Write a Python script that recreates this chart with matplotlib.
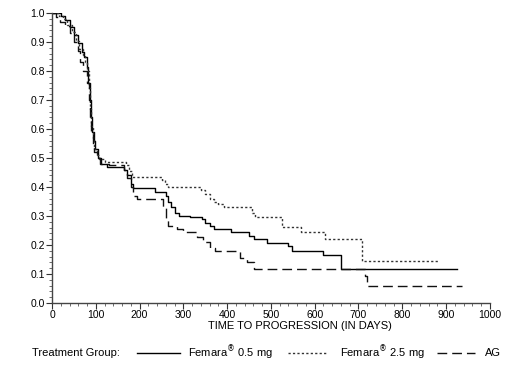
# Kaplan-Meier style curves: time to progression by treatment group

import matplotlib
matplotlib.use("Agg")
import matplotlib.pyplot as plt
from matplotlib.lines import Line2D
from matplotlib.ticker import MultipleLocator

plt.rcParams['font.family'] = ['Liberation Sans', 'DejaVu Sans']

# Femara 0.5 mg (solid)
t_05 = [0, 21, 30, 40, 50, 60, 68, 74, 80, 83, 86, 89, 92, 95, 99, 104, 112, 125,
        165, 172, 180, 186, 235, 261, 266, 272, 280, 290, 316, 343, 350, 360, 369,
        408, 449, 462, 492, 538, 549, 620, 661, 926]
s_05 = [1.0, 0.99, 0.975, 0.95, 0.925, 0.895, 0.865, 0.85, 0.815, 0.76, 0.70, 0.64,
        0.59, 0.56, 0.53, 0.50, 0.48, 0.47, 0.46, 0.44, 0.41, 0.396, 0.383, 0.37,
        0.35, 0.33, 0.31, 0.30, 0.296, 0.29, 0.275, 0.265, 0.256, 0.244, 0.232,
        0.221, 0.206, 0.196, 0.18, 0.164, 0.117, 0.117]

# Femara 2.5 mg (dotted)
t_25 = [0, 17, 25, 35, 45, 55, 62, 70, 76, 80, 84, 87, 90, 93, 97, 102, 108, 120,
        170, 176, 182, 251, 258, 265, 340, 350, 360, 370, 380, 392, 457, 464, 526,
        568, 624, 707, 885]
s_25 = [1.0, 0.99, 0.98, 0.96, 0.935, 0.905, 0.875, 0.855, 0.83, 0.80, 0.74, 0.67,
        0.61, 0.57, 0.53, 0.51, 0.495, 0.488, 0.475, 0.455, 0.434, 0.425, 0.41,
        0.40, 0.39, 0.375, 0.36, 0.35, 0.34, 0.33, 0.31, 0.296, 0.262, 0.244,
        0.221, 0.144, 0.144]

# AG (dashed)
t_ag = [0, 10, 18, 29, 40, 50, 60, 65, 70, 80, 84, 87, 90, 93, 97, 102, 110, 130,
        165, 172, 180, 186, 193, 254, 260, 265, 285, 300, 331, 345, 360, 372, 430,
        445, 461, 714, 720, 937]
s_ag = [1.0, 0.985, 0.97, 0.955, 0.93, 0.90, 0.87, 0.83, 0.80, 0.76, 0.70, 0.64,
        0.59, 0.55, 0.52, 0.50, 0.48, 0.475, 0.46, 0.43, 0.40, 0.37, 0.359, 0.33,
        0.29, 0.265, 0.255, 0.246, 0.227, 0.21, 0.19, 0.178, 0.157, 0.14, 0.117,
        0.094, 0.06, 0.06]

x_ticks = [0, 100, 200, 300, 400, 500, 600, 700, 800, 900, 1000]
y_ticks = [0.0, 0.1, 0.2, 0.3, 0.4, 0.5, 0.6, 0.7, 0.8, 0.9, 1.0]

fig = plt.figure(figsize=(5.2, 3.66), dpi=100)
ax = fig.add_axes([0.1, 0.172, 0.842, 0.7925])

ax.step(t_05, s_05, where='post', color='black', lw=1.0)
ax.step(t_25, s_25, where='post', color='#333333', lw=1.0, dashes=(1.6, 1.6))
ax.step(t_ag, s_ag, where='post', color='#111111', lw=1.0, dashes=(7, 3.6))

ax.set_xlim(0, 1000)
ax.set_ylim(0, 1.0)
ax.set_xticks(x_ticks)
ax.set_yticks(y_ticks)
ax.set_yticklabels([f"{v:.1f}" for v in y_ticks])
ax.xaxis.set_minor_locator(MultipleLocator(20))
ax.yaxis.set_minor_locator(MultipleLocator(0.02))
ax.tick_params(which='major', length=4, width=0.8, labelsize=7.5, pad=1, colors='#333333',
               labelcolor='black')
ax.tick_params(which='minor', length=2.5, width=0.6, colors='#555555')
for side in ['top', 'right']:
    ax.spines[side].set_visible(False)
for side in ['left', 'bottom']:
    ax.spines[side].set_color('#444444')
    ax.spines[side].set_linewidth(1.0)

fig.text(300 / 520, 1 - 326 / 366, "TIME TO PROGRESSION (IN DAYS)", ha='center', va='center',
         fontsize=8)

# legend row
ly = 1 - 353 / 366
fig.text(32 / 520, ly, "Treatment Group:", ha='left', va='center', fontsize=8)
fig.add_artist(Line2D([137 / 520, 180 / 520], [ly, ly], color='black', lw=1.0))
fig.text(188 / 520, ly, r"Femara$^{\circledR}$ 0.5 mg", ha='left', va='center', fontsize=8)
fig.add_artist(Line2D([288 / 520, 327 / 520], [ly, ly], color='#333333', lw=1.0, dashes=(1.6, 1.6)))
fig.text(340 / 520, ly, r"Femara$^{\circledR}$ 2.5 mg", ha='left', va='center', fontsize=8)
fig.add_artist(Line2D([437 / 520, 475 / 520], [ly, ly], color='#111111', lw=1.0, dashes=(7, 3.6)))
fig.text(485 / 520, ly, "AG", ha='left', va='center', fontsize=8)

fig.savefig("out.png", dpi=100)
